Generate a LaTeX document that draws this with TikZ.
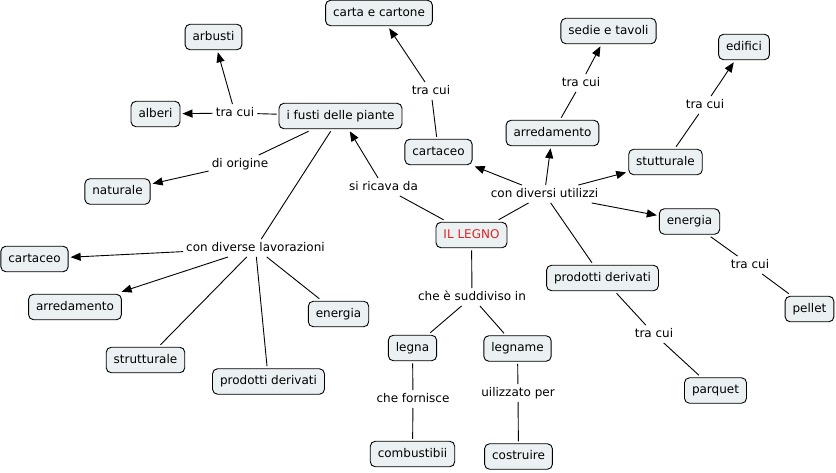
\documentclass[tikz,border=0pt]{standalone}
\usepackage{fontspec}
\setmainfont{DejaVu Sans}
\usetikzlibrary{arrows.meta}
\definecolor{boxfill}{HTML}{EBF1F3}
\definecolor{legnored}{HTML}{E02424}
\tikzset{
  concept/.style={draw=black, line width=0.9pt, fill=boxfill, rounded corners=5pt,
    inner xsep=7.5pt, inner ysep=0pt, minimum height=25.5pt, text height=9pt, text depth=2.5pt,
    outer sep=2.5pt, font=\fontsize{12}{14}\selectfont},
  linkph/.style={inner xsep=3pt, inner ysep=3pt, text height=9pt, text depth=2.5pt,
    font=\fontsize{12}{14}\selectfont, fill=white},
  conn/.style={line width=0.9pt, draw=black},
  arr/.style={conn, -{Triangle[length=10pt,width=8pt]}}
}
\begin{document}
\begin{tikzpicture}[x=1pt,y=-1pt]
\useasboundingbox (0,0) rectangle (836,472);
% concepts
\node[concept] (carta) at (379,13) {carta e cartone};
\node[concept] (arbusti) at (213.5,37) {arbusti};
\node[concept] (sedie) at (608.5,31) {sedie e tavoli};
\node[concept] (edifici) at (744,47) {edifici};
\node[concept] (alberi) at (155.5,114) {alberi};
\node[concept] (fusti) at (340.5,116) {i fusti delle piante};
\node[concept] (arrR) at (552.5,133) {arredamento};
\node[concept] (cartR) at (438.5,152) {cartaceo};
\node[concept] (stut) at (665.5,162) {stutturale};
\node[concept] (natur) at (117.5,191.5) {naturale};
\node[concept] (enR) at (689.5,221.5) {energia};
\node[concept, text=legnored] (legno) at (471.5,235) {IL LEGNO};
\node[concept] (cartL) at (34.5,259) {cartaceo};
\node[concept] (arrL) at (75,307) {arredamento};
\node[concept] (enL) at (338.5,314) {energia};
\node[concept] (prodR) at (602.5,278) {prodotti derivati};
\node[concept] (pellet) at (809.5,309) {pellet};
\node[concept] (strut) at (145.5,360) {strutturale};
\node[concept] (prodL) at (268.5,381.5) {prodotti derivati};
\node[concept] (legna) at (412.5,348) {legna};
\node[concept] (legname) at (517.5,348.5) {legname};
\node[concept] (parquet) at (715.5,390.5) {parquet};
\node[concept] (comb) at (412.5,454) {combustibii};
\node[concept] (costr) at (518.5,456.5) {costruire};
% linking phrases
\node[linkph] (l1) at (235,113) {tra cui};
\node[linkph] (l2) at (240,164) {di origine};
\node[linkph] (l3) at (383.5,187) {si ricava da};
\node[linkph] (l4) at (431,91) {tra cui};
\node[linkph] (l5) at (581,83) {tra cui};
\node[linkph] (l6) at (705,105) {tra cui};
\node[linkph] (l7) at (544.5,194) {con diversi utilizzi};
\node[linkph] (l8) at (255.5,248) {con diverse lavorazioni};
\node[linkph] (l9) at (472,297) {che è suddiviso in};
\node[linkph] (l10) at (654,334) {tra cui};
\node[linkph] (l11) at (750,265) {tra cui};
\node[linkph] (l12) at (413,399) {che fornisce};
\node[linkph] (l13) at (518,393) {uilizzato per};
% connectors
\draw[conn] (fusti) -- (l1);
\draw[arr] (l1) -- (alberi);
\draw[arr] (l1) -- (arbusti);
\draw[conn] (fusti) -- (l2);
\draw[arr] (l2) -- (natur);
\draw[conn] (legno) -- (l3);
\draw[arr] (l3) -- (fusti);
\draw[conn] (fusti) -- (l8);
\draw[arr] (l8) -- (cartL);
\draw[arr] (l8) -- (arrL);
\draw[conn] (l8) -- (strut);
\draw[conn] (l8) -- (prodL);
\draw[conn] (l8) -- (enL);
\draw[conn] (legno) -- (l7);
\draw[arr] (l7) -- (cartR);
\draw[arr] (l7) -- (arrR);
\draw[arr] (l7) -- (stut);
\draw[arr] (l7) -- (enR);
\draw[conn] (l7) -- (prodR);
\draw[conn] (cartR) -- (l4);
\draw[arr] (l4) -- (carta);
\draw[conn] (arrR) -- (l5);
\draw[arr] (l5) -- (sedie);
\draw[conn] (stut) -- (l6);
\draw[arr] (l6) -- (edifici);
\draw[conn] (enR) -- (l11);
\draw[conn] (l11) -- (pellet);
\draw[conn] (prodR) -- (l10);
\draw[conn] (l10) -- (parquet);
\draw[conn] (legno) -- (l9);
\draw[conn] (l9) -- (legna);
\draw[conn] (l9) -- (legname);
\draw[conn] (legna) -- (l12);
\draw[conn] (l12) -- (comb);
\draw[conn] (legname) -- (l13);
\draw[conn] (l13) -- (costr);
\end{tikzpicture}
\end{document}
